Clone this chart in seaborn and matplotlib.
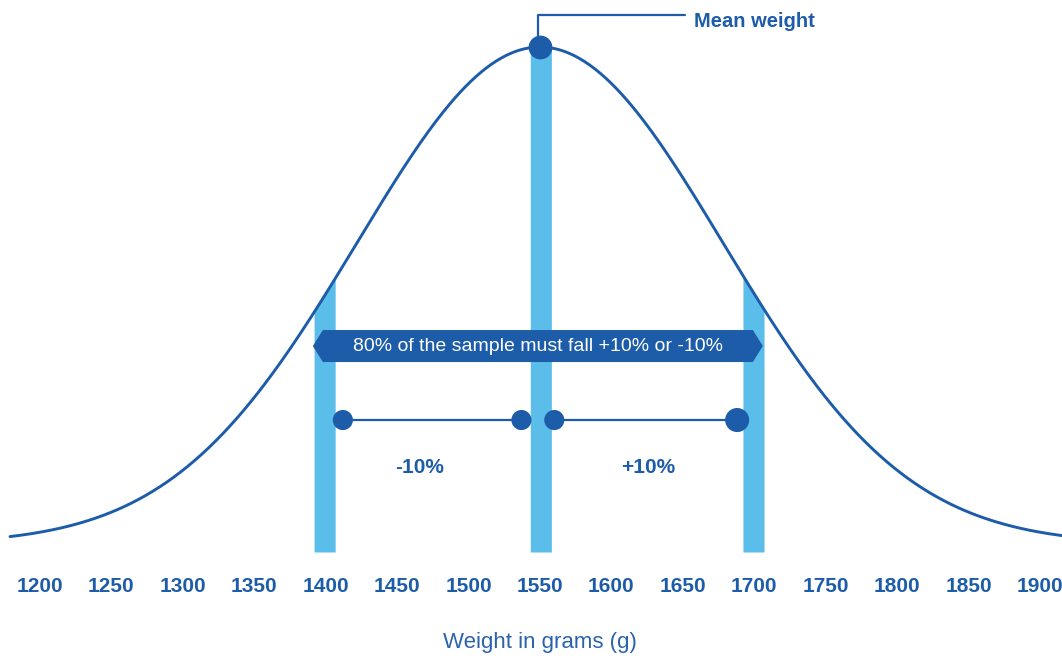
import numpy as np
import pandas as pd
import matplotlib
matplotlib.use("Agg")
import matplotlib.pyplot as plt
import seaborn as sns

# ---- values ----
mean_weight = 1550          # grams, centre of the bell curve
sd_weight = 128             # grams, spread of the bell curve
curve_start, curve_end = 1179, 1916
band_centres = [1399, 1550, 1699]      # light blue bands
band_half_width = 8
minus_segment = [1412, 1537]           # -10% range markers
plus_segment = [1560, 1688]            # +10% range markers
tick_values = list(range(1200, 1901, 50))

dark_blue = "#1d5ca9"
light_blue = "#5bbde9"

sns.set_theme(style="white")
plt.rcParams['font.family'] = ['Liberation Sans', 'DejaVu Sans']

# bell curve table (relative height, peak = 1)
grams = np.linspace(curve_start, curve_end, 600)
curve = pd.DataFrame({
    'weight': grams,
    'height': np.exp(-(grams - mean_weight) ** 2 / (2 * sd_weight ** 2)),
})

fig = plt.figure(figsize=(10.62, 6.58), dpi=100)
ax = fig.add_axes([0, 0.1565, 1, 0.8435])
ax.set_xlim(1172, 1915.4)
ax.set_ylim(-0.0221, 1.0946)

# light blue bands, topped by the curve
band_floor = -0.016
for c in band_centres:
    part = curve[(curve['weight'] >= c - band_half_width) & (curve['weight'] <= c + band_half_width)]
    ax.fill_between(part['weight'], band_floor, part['height'], color=light_blue, lw=0, zorder=1)

# the curve itself
sns.lineplot(data=curve, x='weight', y='height', color=dark_blue, lw=2.1, ax=ax, zorder=3)

# banner: 80% of the sample ...
b_top, b_bot = 0.4306, 0.3662
b_mid = (b_top + b_bot) / 2
bx = [1391, 1398, 1699, 1706, 1699, 1398]
by = [b_mid, b_top, b_top, b_mid, b_bot, b_bot]
ax.fill(bx, by, color=dark_blue, lw=0, zorder=4)
ax.text((1391 + 1706) / 2, b_mid, "80% of the sample must fall +10% or -10%",
        color='white', fontsize=14, ha='center', va='center', zorder=5)

# range segments with end dots
seg_y = 0.2495
for seg in (minus_segment, plus_segment):
    ax.plot(seg, [seg_y, seg_y], color=dark_blue, lw=1.6, zorder=4)
dots = pd.DataFrame({
    'weight': minus_segment + plus_segment,
    'y': [seg_y] * 4,
})
sns.scatterplot(data=dots.iloc[:3], x='weight', y='y', s=210, color=dark_blue,
                edgecolor='none', ax=ax, zorder=5)
sns.scatterplot(data=dots.iloc[3:], x='weight', y='y', s=300, color=dark_blue,
                edgecolor='none', ax=ax, zorder=5)

ax.text(1466, 0.153, "-10%", color=dark_blue, fontsize=15, fontweight='bold',
        ha='center', va='center')
ax.text(1626, 0.153, "+10%", color=dark_blue, fontsize=15, fontweight='bold',
        ha='center', va='center')

# mean weight marker with leader line
lead_y = 1.064
ax.plot([mean_weight - 1.5, mean_weight - 1.5, 1651.5], [1.0, lead_y, lead_y],
        color=dark_blue, lw=1.6, zorder=4)
ax.scatter([mean_weight], [1.0], s=260, color=dark_blue, zorder=6)
ax.text(1658, 1.052, "Mean weight", color=dark_blue, fontsize=14.5, fontweight='bold',
        ha='left', va='center')

# axis styling
ax.set_xticks(tick_values)
ax.set_xticklabels([str(t) for t in tick_values], fontsize=15, fontweight='bold',
                   color=dark_blue)
ax.tick_params(axis='x', length=0, pad=16)
ax.set_yticks([])
ax.set_ylabel('')
ax.set_xlabel("Weight in grams (g)", fontsize=16, color="#2b63ad", labelpad=24)
ax.xaxis.set_label_coords(540 / 1062, -0.138)
sns.despine(ax=ax, left=True, bottom=True)

fig.savefig('out.png', dpi=100)
